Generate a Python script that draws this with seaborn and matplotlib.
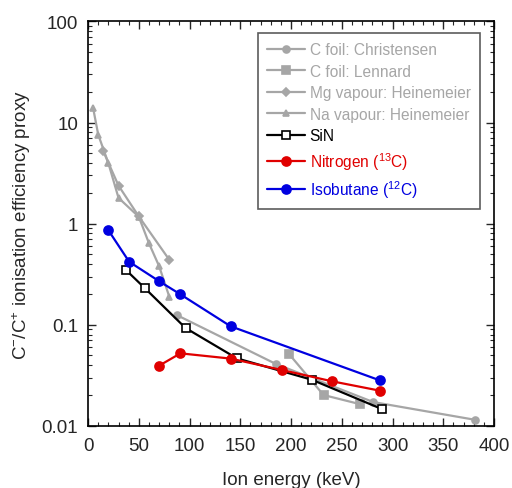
import numpy as np
import pandas as pd
import seaborn as sns
import matplotlib.pyplot as plt
from matplotlib.ticker import MultipleLocator, LogLocator, FixedLocator, NullFormatter

# Data
christensen_x = [88, 185, 281, 381]
christensen_y = [0.124, 0.041, 0.0172, 0.0115]

lennard_x = [198, 232, 268]
lennard_y = [0.0514, 0.0202, 0.0164]

mg_x = [15, 30, 50, 80]
mg_y = [5.2, 2.38, 1.18, 0.44]

na_x = [5, 10, 20, 30, 50, 60, 70, 80]
na_y = [13.9, 7.6, 3.97, 1.8, 1.17, 0.64, 0.38, 0.19]

sin_x = [37.5, 56, 96, 146.5, 220.5, 290]
sin_y = [0.347, 0.23, 0.093, 0.0466, 0.0286, 0.0146]

nitrogen_x = [70, 91, 140.5, 191, 240.5, 287.5]
nitrogen_y = [0.0394, 0.0522, 0.0463, 0.0357, 0.0276, 0.0223]

isobutane_x = [20, 40.5, 70, 91, 140.5, 287.5]
isobutane_y = [0.862, 0.42, 0.27, 0.20, 0.0966, 0.0282]

sns.set_style("ticks")
plt.rcParams['font.family'] = ['Liberation Sans', 'DejaVu Sans']
plt.rcParams['mathtext.fontset'] = 'custom'
plt.rcParams['mathtext.rm'] = 'Liberation Sans'
plt.rcParams['mathtext.it'] = 'Liberation Sans:italic'

grey = '#a6a6a6'
red = '#e00000'
blue = '#0000e0'

fig = plt.figure(figsize=(5.12, 4.89), dpi=100)
ax = fig.add_axes([0.172, 0.127, 0.793, 0.827])

series = [
    ('C foil: Christensen', christensen_x, christensen_y, grey, 'o', 5, grey),
    ('C foil: Lennard', lennard_x, lennard_y, grey, 's', 5.3, grey),
    ('Mg vapour: Heinemeier', mg_x, mg_y, grey, 'D', 4, grey),
    ('Na vapour: Heinemeier', na_x, na_y, grey, '^', 5, grey),
    ('SiN', sin_x, sin_y, 'black', 's', 5.5, 'white'),
    ('Nitrogen ($^{13}$C)', nitrogen_x, nitrogen_y, red, 'o', 6.5, red),
    ('Isobutane ($^{12}$C)', isobutane_x, isobutane_y, blue, 'o', 6.5, blue),
]

for label, xs, ys, c, m, ms, fc in series:
    sns.lineplot(x=xs, y=ys, ax=ax, color=c, marker=m, markersize=ms,
                 markerfacecolor=fc, markeredgecolor=c if fc != 'white' else 'black',
                 markeredgewidth=1.2, linewidth=1.6, sort=False, label=label)

ax.set_yscale('log')
ax.set_xlim(0, 400)
ax.set_ylim(0.01, 100)
ax.xaxis.set_major_locator(MultipleLocator(50))
ax.xaxis.set_minor_locator(MultipleLocator(10))
ax.yaxis.set_major_locator(FixedLocator([0.01, 0.1, 1, 10, 100]))
ax.set_yticklabels(['0.01', '0.1', '1', '10', '100'])
ax.yaxis.set_minor_locator(LogLocator(base=10, subs=np.arange(2, 10), numticks=20))
ax.yaxis.set_minor_formatter(NullFormatter())
ax.tick_params(which='both', direction='in', top=True, right=True, labelsize=13.5)
ax.tick_params(which='major', length=6, width=1)
ax.tick_params(which='minor', length=3, width=0.8)
ax.tick_params(axis='x', which='major', pad=8)
ax.tick_params(axis='y', which='major', pad=7)
for s in ax.spines.values():
    s.set_linewidth(1.2)
    s.set_color('black')

ax.set_xlabel('Ion energy (keV)', fontsize=13.5, labelpad=12)
ax.set_ylabel('C$^{-}$/C$^{+}$ ionisation efficiency proxy', fontsize=13.5, labelpad=6)

leg = ax.legend(loc='upper right', bbox_to_anchor=(0.9655, 0.9716), borderaxespad=0,
                frameon=True, fancybox=False, edgecolor='#333333', fontsize=11.2,
                handlelength=2.45, handletextpad=0.3, labelspacing=0.42,
                borderpad=0.6)
leg.get_frame().set_linewidth(1.2)
for txt, (label, xs, ys, c, m, ms, fc) in zip(leg.get_texts(), series):
    txt.set_color(c)

fig.savefig('out.png', dpi=100)
